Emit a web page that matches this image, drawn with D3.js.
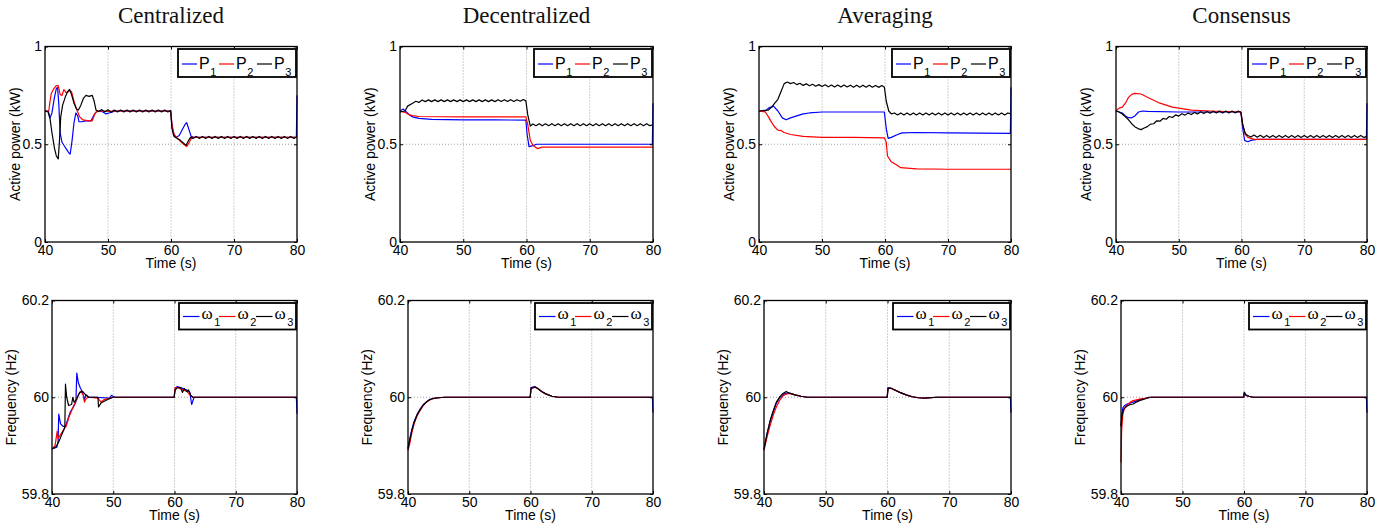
<!DOCTYPE html>
<html>
<head>
<meta charset="utf-8">
<script src="https://cdn.jsdelivr.net/npm/d3@7"></script>
<style>
  body { margin: 0; background: #fff; }
  svg { display: block; }
</style>
</head>
<body>
<svg id="fig" width="1396" height="529"></svg>
<script>
// ---- Categories and tick labels ----
const methods = ["Centralized", "Decentralized", "Averaging", "Consensus"];
const timeTicks = [40, 50, 60, 70, 80];
const powerTicks = [0, 0.5, 1];
const powerTickLabels = ["0", "0.5", "1"];
const freqTicks = [59.8, 60, 60.2];
const freqTickLabels = ["59.8", "60", "60.2"];
const unitIds = ["1", "2", "3"];
const seriesColors = ["#0000ff", "#ff0000", "#000000"];

// ---- Active power (kW) per unit, [time s, value] ----
const centralizedP1 = [[40,0.67],[40.5,0.67],[40.8,0.635],[41.1,0.66],[41.5,0.74],[41.8,0.785],[42.0,0.79],[42.2,0.70],[42.4,0.56],[42.7,0.51],[43.1,0.49],[43.5,0.47],[43.8,0.455],[44.0,0.45],[44.3,0.52],[44.6,0.61],[44.9,0.66],[45.2,0.645],[45.4,0.615],[45.8,0.615],[46.5,0.62],[47.3,0.62],[47.7,0.645],[48.1,0.665],[48.6,0.67],[49.2,0.665],[49.7,0.655],[50.2,0.66],[50.7,0.665],[51.2,0.67],[55,0.67],[59.95,0.67],[60.15,0.60],[60.4,0.545],[60.8,0.535],[61.3,0.545],[61.8,0.575],[62.3,0.605],[62.5,0.61],[62.8,0.58],[63.2,0.54],[63.6,0.535],[70,0.535],[79.9,0.535],[80,0.75]];
const centralizedP2 = [[40,0.67],[40.6,0.67],[40.8,0.72],[41.0,0.76],[41.4,0.785],[41.8,0.80],[42.1,0.80],[42.4,0.755],[42.7,0.75],[43.0,0.78],[43.3,0.765],[43.6,0.765],[43.9,0.775],[44.2,0.77],[44.6,0.72],[45.0,0.68],[45.5,0.64],[46.0,0.625],[47.0,0.62],[47.5,0.62],[47.9,0.655],[48.3,0.67],[49,0.67],[50,0.668],[51,0.67],[55,0.67],[59.95,0.67],[60.15,0.60],[60.5,0.55],[61,0.53],[61.5,0.515],[62,0.50],[62.5,0.488],[62.9,0.51],[63.3,0.535],[70,0.535],[80,0.535]];
const centralizedP3 = [[40,0.67],[40.5,0.665],[40.8,0.63],[41.1,0.56],[41.5,0.48],[41.8,0.44],[42.1,0.425],[42.3,0.52],[42.5,0.64],[42.8,0.70],[43.2,0.74],[43.6,0.77],[43.9,0.78],[44.2,0.755],[44.6,0.71],[45.0,0.68],[45.3,0.675],[45.7,0.70],[46.1,0.735],[46.5,0.75],[47.0,0.745],[47.5,0.75],[47.8,0.72],[48.1,0.675],
  [48.5,0.668],[49,0.677],[49.5,0.666],[50,0.676],[50.5,0.664],[51,0.675],[51.5,0.665],[52,0.675],[52.5,0.665],[53,0.675],[53.5,0.665],[54,0.675],[54.5,0.665],[55,0.675],[55.5,0.665],[56,0.675],[56.5,0.665],[57,0.675],[57.5,0.665],[58,0.675],[58.5,0.665],[59,0.675],[59.5,0.665],[59.95,0.672],
  [60.15,0.58],[60.5,0.54],[61,0.53],[61.5,0.52],[62,0.505],[62.4,0.495],[62.8,0.52],[63.1,0.535],
  [63.5,0.53],[64,0.54],[64.5,0.53],[65,0.54],[65.5,0.53],[66,0.54],[66.5,0.53],[67,0.54],[67.5,0.53],[68,0.54],[68.5,0.53],[69,0.54],[69.5,0.53],[70,0.54],[70.5,0.53],[71,0.54],[71.5,0.53],[72,0.54],[72.5,0.53],[73,0.54],[73.5,0.53],[74,0.54],[74.5,0.53],[75,0.54],[75.5,0.53],[76,0.54],[76.5,0.53],[77,0.54],[77.5,0.53],[78,0.54],[78.5,0.53],[79,0.54],[79.5,0.53],[80,0.538]];

const decentralizedP1 = [[40,0.67],[40.5,0.68],[41,0.665],[41.5,0.65],[42,0.64],[43,0.632],[45,0.627],[50,0.625],[55,0.625],[59.9,0.623],[60.1,0.55],[60.4,0.488],[61,0.493],[61.6,0.50],[65,0.50],[70,0.50],[79.9,0.50],[80,0.71]];
const decentralizedP2 = [[40,0.67],[41,0.66],[41.5,0.65],[42,0.646],[43,0.642],[50,0.64],[55,0.64],[59.9,0.64],[60.2,0.60],[60.6,0.52],[61,0.495],[61.7,0.478],[62.5,0.485],[65,0.485],[70,0.485],[80,0.485]];
const decentralizedP3 = [[40,0.665],[40.8,0.67],[41.2,0.695],[42,0.71],[42.5,0.72],[43,0.714],[43.5,0.726],[44,0.718],[44.5,0.727],[45,0.718],[45.5,0.727],[46,0.718],[46.5,0.727],[47,0.718],[47.5,0.727],[48,0.718],[48.5,0.727],[49,0.718],[49.5,0.727],[50,0.718],[50.5,0.727],[51,0.718],[51.5,0.727],[52,0.718],[52.5,0.727],[53,0.718],[53.5,0.727],[54,0.718],[54.5,0.727],[55,0.718],[55.5,0.728],[56,0.719],[56.5,0.728],[57,0.719],[57.5,0.728],[58,0.719],[58.5,0.728],[59,0.72],[59.5,0.729],[59.9,0.722],
  [60.2,0.65],[60.6,0.593],[61,0.604],[61.5,0.595],[62,0.605],[62.5,0.595],[63,0.605],[63.5,0.595],[64,0.605],[64.5,0.595],[65,0.605],[65.5,0.595],[66,0.605],[66.5,0.595],[67,0.605],[67.5,0.595],[68,0.605],[68.5,0.595],[69,0.605],[69.5,0.595],[70,0.605],[70.5,0.595],[71,0.605],[71.5,0.595],[72,0.605],[72.5,0.595],[73,0.605],[73.5,0.595],[74,0.605],[74.5,0.595],[75,0.605],[75.5,0.595],[76,0.605],[76.5,0.595],[77,0.605],[77.5,0.595],[78,0.605],[78.5,0.595],[79,0.605],[79.5,0.595],[80,0.6]];

const averagingP1 = [[40,0.67],[41,0.67],[41.5,0.685],[42.3,0.695],[43,0.67],[43.7,0.635],[44.3,0.625],[45,0.635],[46,0.645],[47,0.655],[48,0.66],[50,0.665],[55,0.665],[59.9,0.665],[60.2,0.58],[60.5,0.53],[61,0.535],[62,0.55],[62.7,0.558],[65,0.56],[70,0.558],[79.9,0.556],[80,0.79]];
const averagingP2 = [[40,0.67],[41,0.665],[41.5,0.64],[42,0.612],[42.5,0.588],[43,0.572],[43.5,0.57],[44,0.56],[45,0.55],[47,0.54],[50,0.535],[55,0.535],[59.9,0.533],[60.2,0.51],[60.4,0.44],[61,0.41],[61.8,0.395],[62.5,0.38],[65,0.374],[70,0.372],[80,0.372]];
const averagingP3 = [[40,0.67],[41.5,0.675],[42,0.69],[42.5,0.71],[43,0.73],[43.5,0.77],[44,0.81],[44.5,0.818],[45,0.81],[45.5,0.816],[46,0.805],[46.5,0.812],[47,0.801],[47.5,0.809],[48,0.799],[48.5,0.807],[49,0.797],[49.5,0.805],[50,0.795],[50.5,0.804],[51,0.794],[51.5,0.803],[52,0.793],[52.5,0.803],[53,0.793],[53.5,0.803],[54,0.793],[54.5,0.802],[55,0.792],[55.5,0.802],[56,0.792],[56.5,0.802],[57,0.792],[57.5,0.802],[58,0.792],[58.5,0.801],[59,0.791],[59.5,0.8],[59.9,0.792],
  [60.2,0.72],[60.6,0.67],[61,0.655],[61.5,0.66],[62,0.65],[62.5,0.66],[63,0.65],[63.5,0.66],[64,0.65],[64.5,0.66],[65,0.65],[65.5,0.66],[66,0.65],[66.5,0.66],[67,0.65],[67.5,0.66],[68,0.65],[68.5,0.66],[69,0.65],[69.5,0.66],[70,0.65],[70.5,0.66],[71,0.65],[71.5,0.66],[72,0.65],[72.5,0.66],[73,0.65],[73.5,0.66],[74,0.65],[74.5,0.66],[75,0.65],[75.5,0.66],[76,0.65],[76.5,0.66],[77,0.65],[77.5,0.66],[78,0.65],[78.5,0.66],[79,0.65],[79.5,0.66],[80,0.655]];

const consensusP1 = [[40,0.67],[40.5,0.665],[41,0.66],[41.5,0.645],[42,0.636],[42.5,0.635],[43,0.645],[43.6,0.665],[44.2,0.67],[45,0.668],[50,0.665],[55,0.665],[59.9,0.665],[60.2,0.58],[60.5,0.52],[61,0.513],[61.5,0.52],[62.5,0.525],[70,0.525],[79.9,0.525],[80,0.71]];
const consensusP2 = [[40,0.67],[40.5,0.685],[41,0.69],[41.5,0.71],[42,0.74],[42.5,0.755],[43,0.76],[44,0.757],[45,0.74],[46,0.725],[47,0.71],[48,0.70],[49,0.69],[50,0.685],[52,0.675],[55,0.67],[59.9,0.665],[60.2,0.60],[60.6,0.55],[61,0.535],[62,0.525],[70,0.525],[80,0.525]];
const consensusP3 = [[40,0.67],[40.5,0.665],[41,0.655],[41.5,0.64],[42,0.625],[42.5,0.605],[43,0.59],[43.5,0.58],[44,0.575],[44.5,0.583],[45,0.59],[45.5,0.603],[46,0.605],[46.5,0.62],[47,0.618],[47.5,0.632],[48,0.628],[48.5,0.642],[49,0.637],[49.5,0.65],[50,0.644],[50.5,0.656],[51,0.649],[51.5,0.66],[52,0.652],[52.5,0.663],[53,0.655],[53.5,0.666],[54,0.657],[54.5,0.668],[55,0.659],[55.5,0.669],[56,0.66],[56.5,0.67],[57,0.66],[57.5,0.67],[58,0.66],[58.5,0.67],[59,0.66],[59.5,0.67],[59.9,0.664],
  [60.2,0.60],[60.6,0.555],[61,0.545],[61.5,0.537],[62,0.547],[62.5,0.536],[63,0.546],[63.5,0.535],[64,0.545],[64.5,0.535],[65,0.545],[65.5,0.535],[66,0.545],[66.5,0.535],[67,0.545],[67.5,0.535],[68,0.545],[68.5,0.535],[69,0.545],[69.5,0.535],[70,0.545],[70.5,0.535],[71,0.545],[71.5,0.535],[72,0.545],[72.5,0.535],[73,0.545],[73.5,0.535],[74,0.545],[74.5,0.535],[75,0.545],[75.5,0.535],[76,0.545],[76.5,0.535],[77,0.545],[77.5,0.535],[78,0.545],[78.5,0.535],[79,0.545],[79.5,0.535],[80,0.54]];

// ---- Frequency (Hz) per unit, [time s, value] ----
const centralizedW1 = [[40,59.893],[40.8,59.897],[41.0,59.91],[41.1,59.965],[41.4,59.945],[41.8,59.94],[42.2,59.94],[42.6,59.955],[43,59.97],[43.5,59.98],[43.9,59.99],[44.05,60.05],[44.3,60.03],[44.6,60.02],[45,60.01],[45.3,59.995],[45.5,60.005],[46,60.0],[47,60.0],[49.4,59.998],[49.7,60.004],[50.2,60.0],[59.95,60.0],[60.05,60.015],[60.4,60.022],[61,60.02],[62,60.015],[62.5,60.01],[62.8,59.985],[63.2,60.0],[79.9,60.0],[80,59.966]];
const centralizedW2 = [[40,59.893],[40.5,59.90],[40.85,59.93],[41,59.915],[41.5,59.925],[42,59.935],[42.3,59.94],[42.8,59.96],[43.3,59.975],[43.8,59.99],[44.3,60.005],[44.7,60.012],[45.1,60.005],[45.3,59.99],[45.6,59.998],[46,60.0],[47.5,59.998],[48,59.99],[48.5,59.995],[50,60.0],[59.95,60.0],[60.1,60.02],[60.5,60.02],[61,60.017],[61.5,60.015],[62,60.012],[62.5,60.005],[63,60.0],[80,60.0]];
const centralizedW3 = [[40,59.893],[40.6,59.897],[41,59.905],[41.5,59.92],[42,59.935],[42.1,59.94],[42.2,60.027],[42.4,60.0],[42.7,59.983],[43.2,59.985],[43.4,60.0],[43.6,59.99],[44,59.995],[44.5,60.01],[45,60.012],[45.5,60.005],[46,60.0],[47.5,60.0],[47.6,59.98],[48,59.988],[49,59.995],[50,60.0],[59.95,60.0],[60.1,60.015],[60.5,60.02],[61,60.02],[61.3,60.01],[61.6,60.018],[62,60.012],[62.3,60.015],[62.6,60.005],[63,60.0],[80,60.0]];

const decentralizedW1 = [[40,59.895],[40.3,59.915],[40.6,59.932],[41,59.95],[41.5,59.965],[42,59.976],[42.5,59.985],[43,59.99],[43.5,59.995],[44,59.997],[45,59.999],[46,60.0],[59.95,60.0],[60.05,60.02],[60.7,60.022],[61.2,60.018],[61.8,60.012],[62.5,60.007],[63.5,60.002],[64.5,60.0],[79.9,60.0],[80,59.968]];
const decentralizedW2 = [[40,59.89],[40.3,59.905],[40.6,59.925],[41,59.945],[41.5,59.962],[42,59.973],[42.5,59.983],[43,59.99],[43.5,59.994],[44,59.997],[45,59.999],[46,60.0],[59.95,60.0],[60.1,60.018],[60.7,60.021],[61.2,60.018],[61.8,60.012],[62.5,60.007],[63.5,60.002],[64.5,60.0],[80,60.0]];
const decentralizedW3 = [[40,59.893],[40.3,59.912],[40.6,59.93],[41,59.948],[41.5,59.964],[42,59.975],[42.5,59.984],[43,59.99],[43.5,59.995],[44,59.997],[45,59.999],[46,60.0],[59.95,60.0],[60.1,60.018],[60.7,60.021],[61.2,60.018],[61.8,60.012],[62.5,60.007],[63.5,60.002],[64.5,60.0],[80,60.0]];

const averagingW1 = [[40,59.893],[40.5,59.925],[41,59.95],[41.5,59.97],[42,59.988],[42.5,59.998],[43,60.005],[43.5,60.008],[44,60.009],[44.5,60.007],[45,60.005],[46,60.002],[47,60.0],[59.95,60.0],[60.05,60.02],[60.5,60.019],[61,60.016],[62,60.01],[63,60.005],[64,60.001],[65,59.999],[66,59.998],[68,60.0],[79.9,60.0],[80,59.968]];
const averagingW2 = [[40,59.89],[40.5,59.918],[41,59.942],[41.5,59.963],[42,59.98],[42.5,59.993],[43,60.002],[43.5,60.006],[44,60.008],[44.5,60.007],[45,60.005],[46,60.002],[47,60.0],[59.95,60.0],[60.1,60.018],[60.5,60.019],[61,60.016],[62,60.01],[63,60.005],[64,60.001],[65,59.999],[66,59.998],[68,60.0],[80,60.0]];
const averagingW3 = [[40,59.893],[40.5,59.925],[41,59.952],[41.5,59.972],[42,59.99],[42.5,60.0],[43,60.007],[43.6,60.012],[44,60.009],[44.5,60.007],[45,60.005],[46,60.002],[47,60.0],[59.95,60.0],[60.1,60.018],[60.5,60.019],[61,60.016],[62,60.01],[63,60.005],[64,60.001],[65,59.999],[66,59.998],[68,60.0],[80,60.0]];

const consensusW1 = [[40,59.94],[40.15,59.965],[40.3,59.978],[40.6,59.983],[41,59.986],[42,59.99],[43,59.995],[44,59.998],[45,60.0],[59.95,60.0],[60.05,60.01],[60.3,60.005],[60.8,60.002],[61.5,60.0],[79.9,60.0],[80,59.968]];
const consensusW2 = [[40,59.865],[40.1,59.93],[40.3,59.965],[40.6,59.978],[41,59.984],[41.5,59.99],[42,59.993],[43,59.996],[44,59.998],[45,60.0],[59.95,60.0],[60.05,60.008],[60.3,60.004],[60.8,60.002],[61.5,60.0],[80,60.0]];
const consensusW3 = [[40,59.94],[40.15,59.96],[40.4,59.975],[41,59.982],[41.5,59.985],[42,59.986],[42.5,59.99],[43,59.993],[44,59.997],[44.5,60.0],[59.95,60.0],[60.05,60.01],[60.3,60.004],[60.8,60.002],[61.5,60.0],[80,60.0]];

const powerSeries = [
  [centralizedP1, centralizedP2, centralizedP3],
  [decentralizedP1, decentralizedP2, decentralizedP3],
  [averagingP1, averagingP2, averagingP3],
  [consensusP1, consensusP2, consensusP3]
];
const freqSeries = [
  [centralizedW1, centralizedW2, centralizedW3],
  [decentralizedW1, decentralizedW2, decentralizedW3],
  [averagingW1, averagingW2, averagingW3],
  [consensusW1, consensusW2, consensusW3]
];

// ---- Layout ----
const topLeft = [45, 400, 759, 1116];
const botLeft = [52, 408, 764, 1121];
const colRight = [297, 653, 1011, 1367];
const topRow = { y0: 46.5, y1: 242 };
const botRow = { y0: 300.5, y1: 494 };

const sansFont = "'Liberation Sans', Arial, Helvetica, sans-serif";
const serifFont = "'Liberation Serif', 'Times New Roman', serif";

const svg = d3.select("#fig");

function drawPanel(opts) {
  const { left, right, y0, y1, domain, ticks, tickLabels, ylabel, ylabelOffset,
          series, legendGlyph, legendFont, legendSize, legendLayout } = opts;
  const x = d3.scaleLinear().domain([40, 80]).range([left, right]);
  const y = d3.scaleLinear().domain(domain).range([y1, y0]);
  const g = svg.append("g");

  // dotted grid
  const grid = g.append("g").attr("stroke", "#8a8a8a").attr("stroke-width", 0.8)
    .attr("stroke-dasharray", "1,2");
  grid.selectAll("line.vx").data(timeTicks.slice(1, -1)).join("line")
    .attr("x1", d => x(d)).attr("x2", d => x(d)).attr("y1", y0).attr("y2", y1);
  grid.selectAll("line.hy").data(ticks.slice(1, -1)).join("line")
    .attr("y1", d => y(d)).attr("y2", d => y(d)).attr("x1", left).attr("x2", right);

  // data lines
  const clipId = "clip" + Math.round(left) + "_" + Math.round(y0);
  g.append("clipPath").attr("id", clipId).append("rect")
    .attr("x", left - 1).attr("y", y0 - 1).attr("width", right - left + 2).attr("height", y1 - y0 + 2);
  const line = d3.line().x(d => x(d[0])).y(d => y(d[1]));
  g.append("g").attr("clip-path", `url(#${clipId})`)
    .selectAll("path").data(series).join("path")
    .attr("d", line).attr("fill", "none")
    .attr("stroke", (d, i) => seriesColors[i]).attr("stroke-width", 1.2)
    .attr("stroke-linejoin", "round");

  // axes (inward ticks)
  const ax = g.append("g").attr("transform", `translate(0,${y1})`)
    .call(d3.axisBottom(x).tickValues(timeTicks).tickFormat(d => String(d)).tickSize(-3).tickSizeOuter(0).tickPadding(3));
  const axTop = g.append("g").attr("transform", `translate(0,${y0})`)
    .call(d3.axisTop(x).tickValues(timeTicks).tickFormat("").tickSize(-3).tickSizeOuter(0));
  const ay = g.append("g").attr("transform", `translate(${left},0)`)
    .call(d3.axisLeft(y).tickValues(ticks).tickFormat((d, i) => tickLabels[i]).tickSize(-3).tickSizeOuter(0).tickPadding(3));
  const ayR = g.append("g").attr("transform", `translate(${right},0)`)
    .call(d3.axisRight(y).tickValues(ticks).tickFormat("").tickSize(-3).tickSizeOuter(0));
  [ax, axTop, ay, ayR].forEach(a => {
    a.select(".domain").remove();
    a.selectAll(".tick line").attr("stroke", "#000").attr("stroke-width", 1);
    a.selectAll("text").attr("font-family", sansFont).attr("font-size", 14).attr("fill", "#000");
  });

  // frame
  g.append("rect").attr("x", left).attr("y", y0).attr("width", right - left).attr("height", y1 - y0)
    .attr("fill", "none").attr("stroke", "#000").attr("stroke-width", 1.3);

  // axis labels
  g.append("text").attr("x", (left + right) / 2).attr("y", y1 + 26)
    .attr("text-anchor", "middle").attr("font-family", sansFont).attr("font-size", 14)
    .text("Time (s)");
  g.append("text")
    .attr("transform", `translate(${left - ylabelOffset},${(y0 + y1) / 2}) rotate(-90)`)
    .attr("text-anchor", "middle").attr("dy", "0.35em")
    .attr("font-family", sansFont).attr("font-size", 14).text(ylabel);

  // legend
  const L = legendLayout;
  const lg = g.append("g").attr("transform", `translate(${right - L.width - 1},${y0 + L.top})`);
  lg.append("rect").attr("width", L.width).attr("height", L.height)
    .attr("fill", "#fff").attr("stroke", "#000").attr("stroke-width", 1.8);
  unitIds.forEach((id, i) => {
    const x0 = L.entryX[i];
    lg.append("line").attr("x1", x0).attr("x2", x0 + L.lineLen)
      .attr("y1", L.lineY).attr("y2", L.lineY)
      .attr("stroke", seriesColors[i]).attr("stroke-width", 1.2);
    const t = lg.append("text").attr("x", x0 + L.lineLen + 2).attr("y", L.baseY)
      .attr("font-family", legendFont).attr("font-size", legendSize);
    t.append("tspan").text(legendGlyph);
    t.append("tspan").attr("font-family", sansFont).attr("font-size", 11)
      .attr("dx", L.subDx).attr("dy", L.subDy).text(id);
  });
}

const powerLegendLayout = { width: 118, height: 28, top: 2.5, entryX: [4, 41, 79], lineLen: 15,
  lineY: 15, baseY: 19.5, subDx: 0.5, subDy: 7.5 };
const freqLegendLayout = { width: 117, height: 26.5, top: 2.5, entryX: [4, 40, 77], lineLen: 16.5,
  lineY: 13.5, baseY: 15.5, subDx: 1.5, subDy: 7 };

methods.forEach((name, c) => {
  // column title
  svg.append("text").attr("x", (topLeft[c] + colRight[c]) / 2).attr("y", 23)
    .attr("text-anchor", "middle").attr("font-family", serifFont).attr("font-size", 23)
    .attr("fill", "#111").text(name);

  drawPanel({
    left: topLeft[c], right: colRight[c], y0: topRow.y0, y1: topRow.y1,
    domain: [0, 1], ticks: powerTicks, tickLabels: powerTickLabels,
    ylabel: "Active power (kW)", ylabelOffset: 30,
    series: powerSeries[c], legendGlyph: "P", legendFont: sansFont, legendSize: 16,
    legendLayout: powerLegendLayout
  });
  drawPanel({
    left: botLeft[c], right: colRight[c], y0: botRow.y0, y1: botRow.y1,
    domain: [59.8, 60.2], ticks: freqTicks, tickLabels: freqTickLabels,
    ylabel: "Frequency (Hz)", ylabelOffset: 41,
    series: freqSeries[c], legendGlyph: "\u03c9", legendFont: serifFont, legendSize: 17,
    legendLayout: freqLegendLayout
  });
});
</script>
</body>
</html>
